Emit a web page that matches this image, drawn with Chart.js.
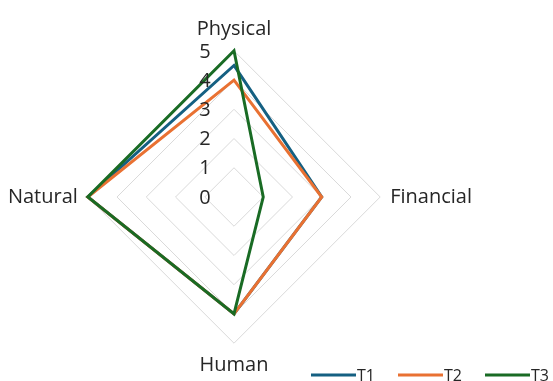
<!DOCTYPE html>
<html>
<head>
<meta charset="utf-8">
<script src="https://cdn.jsdelivr.net/npm/chart.js@4/dist/chart.umd.min.js"></script>
<style>
  html, body { margin: 0; padding: 0; background: #fff; }
  #wrap { width: 553px; height: 381px; position: relative; }
</style>
</head>
<body>
<div id="wrap"><canvas id="RadarChart"></canvas></div>
<script>
// axes of the radar, clockwise from the top
const categories = ["Physical", "Financial", "Human", "Natural"];
const tickValues = [0, 1, 2, 3, 4, 5];

const seriesNames = ["T1", "T2", "T3"];
const t1Values = [4.5, 3, 4, 5];
const t2Values = [4, 3, 4, 5];
const t3Values = [5, 1, 4, 5];

const seriesColors = ["#156082", "#E97132", "#196B24"];
const fontFamily = "'Open Sans', 'Noto Sans', sans-serif";

/**
 * Draws the 0..5 labels just left of the vertical axis
 */
const tickLabelPlugin = {
    id: "tickLabels",
    afterDraw(chart) {
        const scale = chart.scales.r;
        const ctx = chart.ctx;
        ctx.save();
        ctx.font = "20px " + fontFamily;
        ctx.fillStyle = "#262626";
        ctx.textAlign = "center";
        ctx.textBaseline = "middle";
        for (let i = 0; i < tickValues.length; i++) {
            let dist = scale.getDistanceFromCenterForValue(tickValues[i]);
            ctx.fillText(String(tickValues[i]), scale.xCenter - 29, scale.yCenter - dist + 1);
        }
        ctx.restore();
    }
};

/**
 * Legend in the bottom right corner, line + label for each series
 */
const lineLegendPlugin = {
    id: "lineLegend",
    afterDraw(chart) {
        const ctx = chart.ctx;
        const datasets = chart.data.datasets;
        let x = 311;
        const y = 375;
        ctx.save();
        ctx.font = "16px " + fontFamily;
        ctx.textAlign = "left";
        ctx.textBaseline = "middle";
        for (let i = 0; i < datasets.length; i++) {
            ctx.strokeStyle = datasets[i].borderColor;
            ctx.lineWidth = 3;
            ctx.beginPath();
            ctx.moveTo(x, y);
            ctx.lineTo(x + 45, y);
            ctx.stroke();
            ctx.fillStyle = "#262626";
            ctx.fillText(datasets[i].label, x + 46, y + 1);
            x += 87;
        }
        ctx.restore();
    }
};

const seriesValues = [t1Values, t2Values, t3Values];
let datasets = [];
for (let i = 0; i < seriesNames.length; i++) {
    datasets.push({
        label: seriesNames[i],
        data: seriesValues[i],
        borderColor: seriesColors[i],
        backgroundColor: seriesColors[i],
        borderWidth: 3,
        fill: false,
        pointRadius: 0,
        pointHoverRadius: 0,
        tension: 0,
        order: seriesNames.length - i
    });
}

const config = {
    type: "radar",
    data: {
        labels: categories,
        datasets: datasets
    },
    options: {
        responsive: true,
        maintainAspectRatio: false,
        animation: false,
        layout: {
            padding: { top: 14, bottom: -1, left: 3, right: 75 }
        },
        plugins: {
            legend: { display: false },
            tooltip: { enabled: false }
        },
        scales: {
            r: {
                min: 0,
                max: 5,
                ticks: { display: false, stepSize: 1 },
                angleLines: { display: false },
                grid: { color: "#d9d9d9", lineWidth: 1 },
                pointLabels: {
                    padding: 10,
                    color: "#262626",
                    font: { size: 20, family: fontFamily }
                }
            }
        }
    },
    plugins: [tickLabelPlugin, lineLegendPlugin]
};

new Chart(document.getElementById("RadarChart"), config);
</script>
</body>
</html>
